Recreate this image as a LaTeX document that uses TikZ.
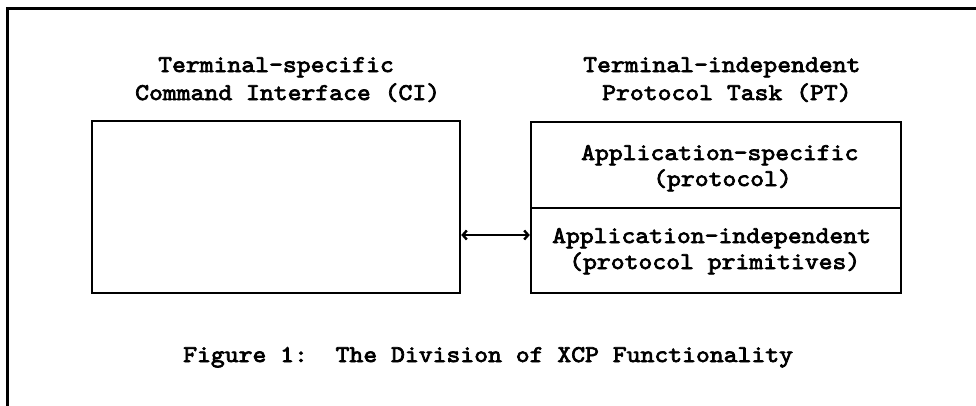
\documentclass[tikz,border=0pt]{standalone}
\usepackage{fontspec}
\usetikzlibrary{arrows.meta}

% wide, heavy typewriter lettering
\newfontfamily\labelfont{lmmono10-regular.otf}[FakeBold=3, FakeStretch=1.1]

\tikzset{
  label text/.style={inner sep=0pt, anchor=base west, font=\labelfont\fontsize{24}{27}\selectfont},
  block/.style={draw, line width=2.4pt, inner sep=0pt},
  frame line/.style={line width=3pt},
  link/.style={line width=2.4pt, {Straight Barb[length=4pt,width=9pt]}-{Straight Barb[length=4pt,width=9pt]}}
}

\begin{document}
\begin{tikzpicture}[x=1pt, y=-1pt]
  \useasboundingbox (0,0) rectangle (976,405);

  % page frame (open to the right and bottom)
  \coordinate (frametl) at (7,8.5);
  \coordinate (frametr) at (980,8.5);
  \coordinate (framebl) at (7,410);
  \draw[frame line] (frametr) -- (frametl) -- (framebl);

  % command interface block
  \node[block, minimum width=368pt, minimum height=172pt] (ci) at (276,207) {};

  % protocol task: two stacked layers
  \node[block, minimum width=370pt, minimum height=86pt] (pta) at (716,165) {};
  \node[block, minimum width=370pt, minimum height=85pt] (ptb) at (716,250.5) {};

  % block headings
  \node[label text] (cih1) at (158,72) {Terminal-specific};
  \node[label text] (cih2) at (135,100) {Command Interface (CI)};
  \node[label text] (pth1) at (583,72) {Terminal-independent};
  \node[label text] (pth2) at (602,100) {Protocol Task (PT)};

  % layer texts
  \node[label text] (pta1) at (581,160) {Application-specific};
  \node[label text] (pta2) at (653,186) {(protocol)};
  \node[label text] (ptb1) at (552,243) {Application-independent};
  \node[label text] (ptb2) at (569,269) {(protocol primitives)};

  % connection between CI and PT
  \coordinate (linky) at (0,235);
  \draw[link] (ci.east |- linky) -- (ptb.west |- linky);

  % caption
  \node[label text] (caption) at (183,362) {Figure 1:\ \ The Division of XCP Functionality};
\end{tikzpicture}
\end{document}
